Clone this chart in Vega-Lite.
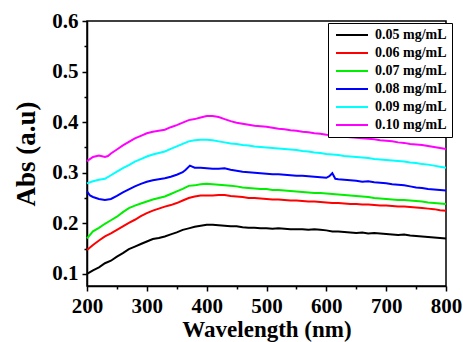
{
  "$schema": "https://vega.github.io/schema/vega-lite/v6.json",
  "width": 359,
  "height": 265,
  "autosize": "none",
  "padding": {"left": 87, "top": 21, "right": 17, "bottom": 56},
  "background": "white",
  "config": {
    "view": {"stroke": "black", "strokeWidth": 1.5},
    "axis": {
      "labelFont": "Liberation Serif", "labelFontWeight": "bold", "labelFontSize": 21, "labelColor": "black",
      "titleFont": "Liberation Serif", "titleFontWeight": "bold", "titleColor": "black",
      "domainColor": "black", "domainWidth": 1.5, "tickColor": "black", "tickWidth": 1.5, "grid": false
    },
    "legend": {
      "orient": "none", "legendX": 241, "legendY": 2,
      "strokeColor": "black", "fillColor": "white", "padding": 5,
      "labelFont": "Liberation Serif", "labelFontWeight": "bold", "labelFontSize": 14, "labelColor": "black",
      "symbolType": "M-1,0H7", "symbolSize": 64, "symbolStrokeWidth": 2, "labelOffset": 28, "rowPadding": 4
    }
  },
  "data": {"values": [
{"s":"0.05 mg/mL","w":200,"v":0.100},{"s":"0.05 mg/mL","w":210,"v":0.107},{"s":"0.05 mg/mL","w":220,"v":0.113},{"s":"0.05 mg/mL","w":230,"v":0.121},{"s":"0.05 mg/mL","w":240,"v":0.126},{"s":"0.05 mg/mL","w":250,"v":0.134},{"s":"0.05 mg/mL","w":260,"v":0.141},{"s":"0.05 mg/mL","w":270,"v":0.149},{"s":"0.05 mg/mL","w":280,"v":0.154},{"s":"0.05 mg/mL","w":290,"v":0.159},{"s":"0.05 mg/mL","w":300,"v":0.164},{"s":"0.05 mg/mL","w":310,"v":0.169},{"s":"0.05 mg/mL","w":320,"v":0.171},{"s":"0.05 mg/mL","w":330,"v":0.174},{"s":"0.05 mg/mL","w":340,"v":0.178},{"s":"0.05 mg/mL","w":350,"v":0.182},{"s":"0.05 mg/mL","w":360,"v":0.187},{"s":"0.05 mg/mL","w":370,"v":0.190},{"s":"0.05 mg/mL","w":380,"v":0.193},{"s":"0.05 mg/mL","w":390,"v":0.195},{"s":"0.05 mg/mL","w":400,"v":0.197},{"s":"0.05 mg/mL","w":410,"v":0.197},{"s":"0.05 mg/mL","w":420,"v":0.196},{"s":"0.05 mg/mL","w":430,"v":0.195},{"s":"0.05 mg/mL","w":440,"v":0.194},{"s":"0.05 mg/mL","w":450,"v":0.194},{"s":"0.05 mg/mL","w":460,"v":0.192},{"s":"0.05 mg/mL","w":470,"v":0.191},{"s":"0.05 mg/mL","w":480,"v":0.191},{"s":"0.05 mg/mL","w":490,"v":0.190},{"s":"0.05 mg/mL","w":500,"v":0.190},{"s":"0.05 mg/mL","w":510,"v":0.189},{"s":"0.05 mg/mL","w":520,"v":0.190},{"s":"0.05 mg/mL","w":530,"v":0.189},{"s":"0.05 mg/mL","w":540,"v":0.188},{"s":"0.05 mg/mL","w":550,"v":0.188},{"s":"0.05 mg/mL","w":560,"v":0.188},{"s":"0.05 mg/mL","w":570,"v":0.187},{"s":"0.05 mg/mL","w":580,"v":0.188},{"s":"0.05 mg/mL","w":590,"v":0.187},{"s":"0.05 mg/mL","w":600,"v":0.186},{"s":"0.05 mg/mL","w":610,"v":0.184},{"s":"0.05 mg/mL","w":620,"v":0.184},{"s":"0.05 mg/mL","w":630,"v":0.183},{"s":"0.05 mg/mL","w":640,"v":0.182},{"s":"0.05 mg/mL","w":650,"v":0.181},{"s":"0.05 mg/mL","w":660,"v":0.182},{"s":"0.05 mg/mL","w":670,"v":0.180},{"s":"0.05 mg/mL","w":680,"v":0.181},{"s":"0.05 mg/mL","w":690,"v":0.180},{"s":"0.05 mg/mL","w":700,"v":0.179},{"s":"0.05 mg/mL","w":710,"v":0.178},{"s":"0.05 mg/mL","w":720,"v":0.177},{"s":"0.05 mg/mL","w":730,"v":0.178},{"s":"0.05 mg/mL","w":740,"v":0.176},{"s":"0.05 mg/mL","w":750,"v":0.175},{"s":"0.05 mg/mL","w":760,"v":0.174},{"s":"0.05 mg/mL","w":770,"v":0.173},{"s":"0.05 mg/mL","w":780,"v":0.172},{"s":"0.05 mg/mL","w":790,"v":0.171},{"s":"0.05 mg/mL","w":800,"v":0.170},
{"s":"0.06 mg/mL","w":200,"v":0.147},{"s":"0.06 mg/mL","w":210,"v":0.157},{"s":"0.06 mg/mL","w":220,"v":0.166},{"s":"0.06 mg/mL","w":230,"v":0.174},{"s":"0.06 mg/mL","w":240,"v":0.180},{"s":"0.06 mg/mL","w":250,"v":0.187},{"s":"0.06 mg/mL","w":260,"v":0.194},{"s":"0.06 mg/mL","w":270,"v":0.201},{"s":"0.06 mg/mL","w":280,"v":0.207},{"s":"0.06 mg/mL","w":290,"v":0.214},{"s":"0.06 mg/mL","w":300,"v":0.220},{"s":"0.06 mg/mL","w":310,"v":0.225},{"s":"0.06 mg/mL","w":320,"v":0.229},{"s":"0.06 mg/mL","w":330,"v":0.233},{"s":"0.06 mg/mL","w":340,"v":0.236},{"s":"0.06 mg/mL","w":350,"v":0.240},{"s":"0.06 mg/mL","w":360,"v":0.245},{"s":"0.06 mg/mL","w":370,"v":0.250},{"s":"0.06 mg/mL","w":380,"v":0.253},{"s":"0.06 mg/mL","w":390,"v":0.255},{"s":"0.06 mg/mL","w":400,"v":0.255},{"s":"0.06 mg/mL","w":410,"v":0.255},{"s":"0.06 mg/mL","w":420,"v":0.256},{"s":"0.06 mg/mL","w":430,"v":0.256},{"s":"0.06 mg/mL","w":440,"v":0.254},{"s":"0.06 mg/mL","w":450,"v":0.253},{"s":"0.06 mg/mL","w":460,"v":0.252},{"s":"0.06 mg/mL","w":470,"v":0.250},{"s":"0.06 mg/mL","w":480,"v":0.250},{"s":"0.06 mg/mL","w":490,"v":0.249},{"s":"0.06 mg/mL","w":500,"v":0.248},{"s":"0.06 mg/mL","w":510,"v":0.247},{"s":"0.06 mg/mL","w":520,"v":0.247},{"s":"0.06 mg/mL","w":530,"v":0.246},{"s":"0.06 mg/mL","w":540,"v":0.245},{"s":"0.06 mg/mL","w":550,"v":0.245},{"s":"0.06 mg/mL","w":560,"v":0.244},{"s":"0.06 mg/mL","w":570,"v":0.243},{"s":"0.06 mg/mL","w":580,"v":0.243},{"s":"0.06 mg/mL","w":590,"v":0.242},{"s":"0.06 mg/mL","w":600,"v":0.241},{"s":"0.06 mg/mL","w":610,"v":0.240},{"s":"0.06 mg/mL","w":620,"v":0.240},{"s":"0.06 mg/mL","w":630,"v":0.239},{"s":"0.06 mg/mL","w":640,"v":0.238},{"s":"0.06 mg/mL","w":650,"v":0.238},{"s":"0.06 mg/mL","w":660,"v":0.237},{"s":"0.06 mg/mL","w":670,"v":0.237},{"s":"0.06 mg/mL","w":680,"v":0.236},{"s":"0.06 mg/mL","w":690,"v":0.235},{"s":"0.06 mg/mL","w":700,"v":0.235},{"s":"0.06 mg/mL","w":710,"v":0.234},{"s":"0.06 mg/mL","w":720,"v":0.233},{"s":"0.06 mg/mL","w":730,"v":0.233},{"s":"0.06 mg/mL","w":740,"v":0.232},{"s":"0.06 mg/mL","w":750,"v":0.231},{"s":"0.06 mg/mL","w":760,"v":0.230},{"s":"0.06 mg/mL","w":770,"v":0.229},{"s":"0.06 mg/mL","w":780,"v":0.228},{"s":"0.06 mg/mL","w":790,"v":0.226},{"s":"0.06 mg/mL","w":800,"v":0.225},
{"s":"0.07 mg/mL","w":200,"v":0.170},{"s":"0.07 mg/mL","w":210,"v":0.184},{"s":"0.07 mg/mL","w":220,"v":0.191},{"s":"0.07 mg/mL","w":230,"v":0.199},{"s":"0.07 mg/mL","w":240,"v":0.206},{"s":"0.07 mg/mL","w":250,"v":0.213},{"s":"0.07 mg/mL","w":260,"v":0.222},{"s":"0.07 mg/mL","w":270,"v":0.230},{"s":"0.07 mg/mL","w":280,"v":0.235},{"s":"0.07 mg/mL","w":290,"v":0.239},{"s":"0.07 mg/mL","w":300,"v":0.243},{"s":"0.07 mg/mL","w":310,"v":0.247},{"s":"0.07 mg/mL","w":320,"v":0.250},{"s":"0.07 mg/mL","w":330,"v":0.253},{"s":"0.07 mg/mL","w":340,"v":0.258},{"s":"0.07 mg/mL","w":350,"v":0.263},{"s":"0.07 mg/mL","w":360,"v":0.268},{"s":"0.07 mg/mL","w":370,"v":0.274},{"s":"0.07 mg/mL","w":380,"v":0.275},{"s":"0.07 mg/mL","w":390,"v":0.277},{"s":"0.07 mg/mL","w":400,"v":0.278},{"s":"0.07 mg/mL","w":410,"v":0.277},{"s":"0.07 mg/mL","w":420,"v":0.276},{"s":"0.07 mg/mL","w":430,"v":0.275},{"s":"0.07 mg/mL","w":440,"v":0.274},{"s":"0.07 mg/mL","w":450,"v":0.273},{"s":"0.07 mg/mL","w":460,"v":0.271},{"s":"0.07 mg/mL","w":470,"v":0.270},{"s":"0.07 mg/mL","w":480,"v":0.269},{"s":"0.07 mg/mL","w":490,"v":0.268},{"s":"0.07 mg/mL","w":500,"v":0.268},{"s":"0.07 mg/mL","w":510,"v":0.266},{"s":"0.07 mg/mL","w":520,"v":0.266},{"s":"0.07 mg/mL","w":530,"v":0.265},{"s":"0.07 mg/mL","w":540,"v":0.264},{"s":"0.07 mg/mL","w":550,"v":0.263},{"s":"0.07 mg/mL","w":560,"v":0.262},{"s":"0.07 mg/mL","w":570,"v":0.261},{"s":"0.07 mg/mL","w":580,"v":0.260},{"s":"0.07 mg/mL","w":590,"v":0.260},{"s":"0.07 mg/mL","w":600,"v":0.259},{"s":"0.07 mg/mL","w":610,"v":0.258},{"s":"0.07 mg/mL","w":620,"v":0.257},{"s":"0.07 mg/mL","w":630,"v":0.256},{"s":"0.07 mg/mL","w":640,"v":0.255},{"s":"0.07 mg/mL","w":650,"v":0.254},{"s":"0.07 mg/mL","w":660,"v":0.253},{"s":"0.07 mg/mL","w":670,"v":0.252},{"s":"0.07 mg/mL","w":680,"v":0.250},{"s":"0.07 mg/mL","w":690,"v":0.249},{"s":"0.07 mg/mL","w":700,"v":0.248},{"s":"0.07 mg/mL","w":710,"v":0.247},{"s":"0.07 mg/mL","w":720,"v":0.246},{"s":"0.07 mg/mL","w":730,"v":0.246},{"s":"0.07 mg/mL","w":740,"v":0.245},{"s":"0.07 mg/mL","w":750,"v":0.244},{"s":"0.07 mg/mL","w":760,"v":0.243},{"s":"0.07 mg/mL","w":770,"v":0.241},{"s":"0.07 mg/mL","w":780,"v":0.240},{"s":"0.07 mg/mL","w":790,"v":0.239},{"s":"0.07 mg/mL","w":800,"v":0.238},
{"s":"0.08 mg/mL","w":200,"v":0.263},{"s":"0.08 mg/mL","w":205,"v":0.255},{"s":"0.08 mg/mL","w":210,"v":0.252},{"s":"0.08 mg/mL","w":220,"v":0.248},{"s":"0.08 mg/mL","w":230,"v":0.246},{"s":"0.08 mg/mL","w":240,"v":0.248},{"s":"0.08 mg/mL","w":250,"v":0.254},{"s":"0.08 mg/mL","w":260,"v":0.261},{"s":"0.08 mg/mL","w":270,"v":0.267},{"s":"0.08 mg/mL","w":280,"v":0.273},{"s":"0.08 mg/mL","w":290,"v":0.278},{"s":"0.08 mg/mL","w":300,"v":0.282},{"s":"0.08 mg/mL","w":310,"v":0.285},{"s":"0.08 mg/mL","w":320,"v":0.287},{"s":"0.08 mg/mL","w":330,"v":0.289},{"s":"0.08 mg/mL","w":340,"v":0.292},{"s":"0.08 mg/mL","w":350,"v":0.296},{"s":"0.08 mg/mL","w":360,"v":0.301},{"s":"0.08 mg/mL","w":365,"v":0.306},{"s":"0.08 mg/mL","w":372,"v":0.314},{"s":"0.08 mg/mL","w":380,"v":0.310},{"s":"0.08 mg/mL","w":390,"v":0.310},{"s":"0.08 mg/mL","w":400,"v":0.309},{"s":"0.08 mg/mL","w":410,"v":0.308},{"s":"0.08 mg/mL","w":420,"v":0.308},{"s":"0.08 mg/mL","w":430,"v":0.309},{"s":"0.08 mg/mL","w":440,"v":0.306},{"s":"0.08 mg/mL","w":450,"v":0.304},{"s":"0.08 mg/mL","w":460,"v":0.302},{"s":"0.08 mg/mL","w":470,"v":0.301},{"s":"0.08 mg/mL","w":480,"v":0.300},{"s":"0.08 mg/mL","w":490,"v":0.299},{"s":"0.08 mg/mL","w":500,"v":0.298},{"s":"0.08 mg/mL","w":510,"v":0.297},{"s":"0.08 mg/mL","w":520,"v":0.297},{"s":"0.08 mg/mL","w":530,"v":0.296},{"s":"0.08 mg/mL","w":540,"v":0.295},{"s":"0.08 mg/mL","w":550,"v":0.294},{"s":"0.08 mg/mL","w":560,"v":0.294},{"s":"0.08 mg/mL","w":570,"v":0.293},{"s":"0.08 mg/mL","w":580,"v":0.292},{"s":"0.08 mg/mL","w":590,"v":0.291},{"s":"0.08 mg/mL","w":600,"v":0.290},{"s":"0.08 mg/mL","w":605,"v":0.293},{"s":"0.08 mg/mL","w":610,"v":0.299},{"s":"0.08 mg/mL","w":615,"v":0.288},{"s":"0.08 mg/mL","w":620,"v":0.287},{"s":"0.08 mg/mL","w":630,"v":0.286},{"s":"0.08 mg/mL","w":640,"v":0.285},{"s":"0.08 mg/mL","w":650,"v":0.284},{"s":"0.08 mg/mL","w":660,"v":0.282},{"s":"0.08 mg/mL","w":670,"v":0.283},{"s":"0.08 mg/mL","w":680,"v":0.281},{"s":"0.08 mg/mL","w":690,"v":0.280},{"s":"0.08 mg/mL","w":700,"v":0.279},{"s":"0.08 mg/mL","w":710,"v":0.277},{"s":"0.08 mg/mL","w":720,"v":0.276},{"s":"0.08 mg/mL","w":730,"v":0.275},{"s":"0.08 mg/mL","w":740,"v":0.273},{"s":"0.08 mg/mL","w":750,"v":0.271},{"s":"0.08 mg/mL","w":760,"v":0.270},{"s":"0.08 mg/mL","w":770,"v":0.268},{"s":"0.08 mg/mL","w":780,"v":0.267},{"s":"0.08 mg/mL","w":790,"v":0.266},{"s":"0.08 mg/mL","w":800,"v":0.265},
{"s":"0.09 mg/mL","w":200,"v":0.279},{"s":"0.09 mg/mL","w":210,"v":0.283},{"s":"0.09 mg/mL","w":220,"v":0.286},{"s":"0.09 mg/mL","w":230,"v":0.288},{"s":"0.09 mg/mL","w":240,"v":0.295},{"s":"0.09 mg/mL","w":250,"v":0.302},{"s":"0.09 mg/mL","w":260,"v":0.309},{"s":"0.09 mg/mL","w":270,"v":0.315},{"s":"0.09 mg/mL","w":280,"v":0.322},{"s":"0.09 mg/mL","w":290,"v":0.327},{"s":"0.09 mg/mL","w":300,"v":0.332},{"s":"0.09 mg/mL","w":310,"v":0.336},{"s":"0.09 mg/mL","w":320,"v":0.339},{"s":"0.09 mg/mL","w":330,"v":0.342},{"s":"0.09 mg/mL","w":340,"v":0.347},{"s":"0.09 mg/mL","w":350,"v":0.352},{"s":"0.09 mg/mL","w":360,"v":0.357},{"s":"0.09 mg/mL","w":370,"v":0.362},{"s":"0.09 mg/mL","w":380,"v":0.364},{"s":"0.09 mg/mL","w":390,"v":0.365},{"s":"0.09 mg/mL","w":400,"v":0.365},{"s":"0.09 mg/mL","w":410,"v":0.364},{"s":"0.09 mg/mL","w":420,"v":0.362},{"s":"0.09 mg/mL","w":430,"v":0.360},{"s":"0.09 mg/mL","w":440,"v":0.358},{"s":"0.09 mg/mL","w":450,"v":0.357},{"s":"0.09 mg/mL","w":460,"v":0.355},{"s":"0.09 mg/mL","w":470,"v":0.354},{"s":"0.09 mg/mL","w":480,"v":0.352},{"s":"0.09 mg/mL","w":490,"v":0.351},{"s":"0.09 mg/mL","w":500,"v":0.350},{"s":"0.09 mg/mL","w":510,"v":0.349},{"s":"0.09 mg/mL","w":520,"v":0.348},{"s":"0.09 mg/mL","w":530,"v":0.347},{"s":"0.09 mg/mL","w":540,"v":0.346},{"s":"0.09 mg/mL","w":550,"v":0.345},{"s":"0.09 mg/mL","w":560,"v":0.343},{"s":"0.09 mg/mL","w":570,"v":0.342},{"s":"0.09 mg/mL","w":580,"v":0.340},{"s":"0.09 mg/mL","w":590,"v":0.339},{"s":"0.09 mg/mL","w":600,"v":0.337},{"s":"0.09 mg/mL","w":610,"v":0.336},{"s":"0.09 mg/mL","w":620,"v":0.335},{"s":"0.09 mg/mL","w":630,"v":0.333},{"s":"0.09 mg/mL","w":640,"v":0.332},{"s":"0.09 mg/mL","w":650,"v":0.331},{"s":"0.09 mg/mL","w":660,"v":0.330},{"s":"0.09 mg/mL","w":670,"v":0.329},{"s":"0.09 mg/mL","w":680,"v":0.327},{"s":"0.09 mg/mL","w":690,"v":0.326},{"s":"0.09 mg/mL","w":700,"v":0.325},{"s":"0.09 mg/mL","w":710,"v":0.324},{"s":"0.09 mg/mL","w":720,"v":0.323},{"s":"0.09 mg/mL","w":730,"v":0.322},{"s":"0.09 mg/mL","w":740,"v":0.320},{"s":"0.09 mg/mL","w":750,"v":0.319},{"s":"0.09 mg/mL","w":760,"v":0.317},{"s":"0.09 mg/mL","w":770,"v":0.316},{"s":"0.09 mg/mL","w":780,"v":0.314},{"s":"0.09 mg/mL","w":790,"v":0.312},{"s":"0.09 mg/mL","w":800,"v":0.310},
{"s":"0.10 mg/mL","w":200,"v":0.323},{"s":"0.10 mg/mL","w":210,"v":0.331},{"s":"0.10 mg/mL","w":220,"v":0.334},{"s":"0.10 mg/mL","w":230,"v":0.331},{"s":"0.10 mg/mL","w":235,"v":0.333},{"s":"0.10 mg/mL","w":240,"v":0.338},{"s":"0.10 mg/mL","w":250,"v":0.346},{"s":"0.10 mg/mL","w":260,"v":0.354},{"s":"0.10 mg/mL","w":270,"v":0.361},{"s":"0.10 mg/mL","w":280,"v":0.368},{"s":"0.10 mg/mL","w":290,"v":0.373},{"s":"0.10 mg/mL","w":300,"v":0.378},{"s":"0.10 mg/mL","w":310,"v":0.381},{"s":"0.10 mg/mL","w":320,"v":0.383},{"s":"0.10 mg/mL","w":330,"v":0.385},{"s":"0.10 mg/mL","w":340,"v":0.390},{"s":"0.10 mg/mL","w":350,"v":0.394},{"s":"0.10 mg/mL","w":360,"v":0.399},{"s":"0.10 mg/mL","w":370,"v":0.404},{"s":"0.10 mg/mL","w":380,"v":0.406},{"s":"0.10 mg/mL","w":390,"v":0.409},{"s":"0.10 mg/mL","w":400,"v":0.412},{"s":"0.10 mg/mL","w":410,"v":0.412},{"s":"0.10 mg/mL","w":420,"v":0.410},{"s":"0.10 mg/mL","w":430,"v":0.406},{"s":"0.10 mg/mL","w":440,"v":0.402},{"s":"0.10 mg/mL","w":450,"v":0.399},{"s":"0.10 mg/mL","w":460,"v":0.397},{"s":"0.10 mg/mL","w":470,"v":0.395},{"s":"0.10 mg/mL","w":480,"v":0.393},{"s":"0.10 mg/mL","w":490,"v":0.392},{"s":"0.10 mg/mL","w":500,"v":0.391},{"s":"0.10 mg/mL","w":510,"v":0.389},{"s":"0.10 mg/mL","w":520,"v":0.387},{"s":"0.10 mg/mL","w":530,"v":0.386},{"s":"0.10 mg/mL","w":540,"v":0.384},{"s":"0.10 mg/mL","w":550,"v":0.383},{"s":"0.10 mg/mL","w":560,"v":0.381},{"s":"0.10 mg/mL","w":570,"v":0.380},{"s":"0.10 mg/mL","w":580,"v":0.378},{"s":"0.10 mg/mL","w":590,"v":0.377},{"s":"0.10 mg/mL","w":600,"v":0.375},{"s":"0.10 mg/mL","w":610,"v":0.374},{"s":"0.10 mg/mL","w":620,"v":0.373},{"s":"0.10 mg/mL","w":630,"v":0.371},{"s":"0.10 mg/mL","w":640,"v":0.370},{"s":"0.10 mg/mL","w":650,"v":0.369},{"s":"0.10 mg/mL","w":660,"v":0.368},{"s":"0.10 mg/mL","w":670,"v":0.367},{"s":"0.10 mg/mL","w":680,"v":0.366},{"s":"0.10 mg/mL","w":690,"v":0.364},{"s":"0.10 mg/mL","w":700,"v":0.363},{"s":"0.10 mg/mL","w":710,"v":0.362},{"s":"0.10 mg/mL","w":720,"v":0.360},{"s":"0.10 mg/mL","w":730,"v":0.359},{"s":"0.10 mg/mL","w":740,"v":0.357},{"s":"0.10 mg/mL","w":750,"v":0.356},{"s":"0.10 mg/mL","w":760,"v":0.355},{"s":"0.10 mg/mL","w":770,"v":0.353},{"s":"0.10 mg/mL","w":780,"v":0.351},{"s":"0.10 mg/mL","w":790,"v":0.349},{"s":"0.10 mg/mL","w":800,"v":0.347}
  ]},
  "resolve": {"axis": {"x": "independent", "y": "independent"}},
  "layer": [
    {
      "mark": {"type": "line", "strokeWidth": 2},
      "encoding": {
        "x": {"field": "w", "type": "quantitative",
              "scale": {"domain": [200, 800], "nice": false, "zero": false},
              "axis": {"orient": "bottom", "values": [200,300,400,500,600,700,800], "tickSize": 5, "labelPadding": 4,
                       "title": "Wavelength (nm)", "titleFontSize": 23, "titlePadding": 2, "labelFlush": false}},
        "y": {"field": "v", "type": "quantitative",
              "scale": {"domain": [0.076, 0.6], "nice": false, "zero": false},
              "axis": {"orient": "left", "values": [0.1,0.2,0.3,0.4,0.5,0.6], "format": ".1f", "tickSize": 5, "labelPadding": 4,
                       "title": "Abs (a.u)", "titleFontSize": 27, "titlePadding": 11, "labelFlush": false}},
        "color": {"field": "s", "type": "nominal", "title": null,
                  "scale": {"domain": ["0.05 mg/mL","0.06 mg/mL","0.07 mg/mL","0.08 mg/mL","0.09 mg/mL","0.10 mg/mL"],
                            "range": ["#000000","#ff0000","#00ee00","#0000ff","#00ffff","#ff00ff"]}}
      }
    },
    {
      "mark": {"type": "line", "strokeOpacity": 0},
      "encoding": {
        "x": {"field": "w", "type": "quantitative",
              "axis": {"orient": "bottom", "values": [250,350,450,550,650,750], "tickSize": 3, "labels": false, "domain": false, "title": null}},
        "y": {"field": "v", "type": "quantitative",
              "axis": {"orient": "left", "values": [0.15,0.25,0.35,0.45,0.55], "tickSize": 3, "labels": false, "domain": false, "title": null}},
        "detail": {"field": "s"}
      }
    }
  ]
}
